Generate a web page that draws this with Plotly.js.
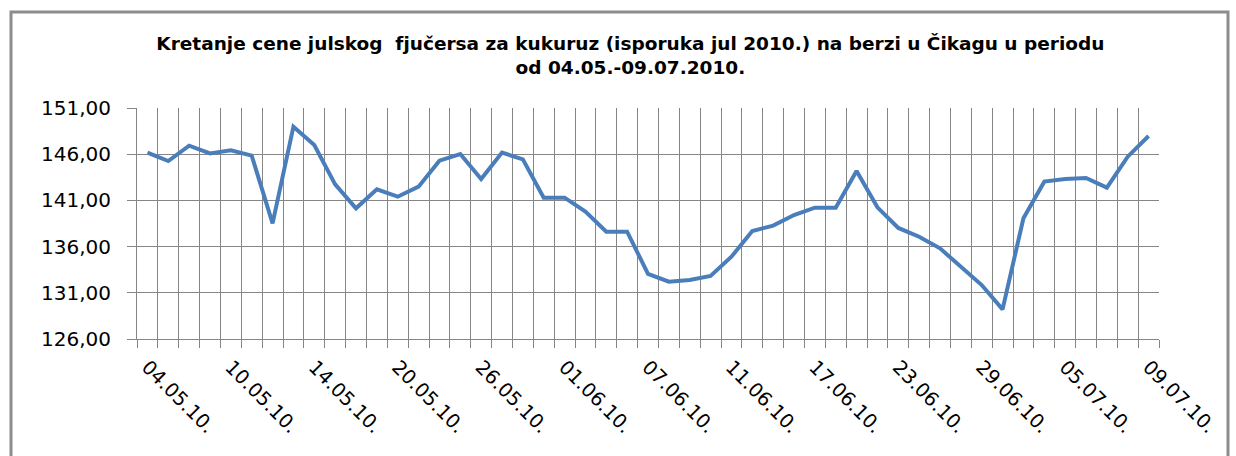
<!DOCTYPE html>
<html>
<head>
<meta charset="utf-8">
<script src="https://cdn.plot.ly/plotly-3.0.1.min.js"></script>
<style>
html,body{margin:0;padding:0;background:#fff;}
#chart{width:1236px;height:456px;}
</style>
</head>
<body>
<div id="chart"></div>
<script>
const dates = [
  "04.05.10.","05.05.10.","06.05.10.","07.05.10.","10.05.10.","11.05.10.","12.05.10.","13.05.10.","14.05.10.",
  "17.05.10.","18.05.10.","19.05.10.","20.05.10.","21.05.10.","24.05.10.","25.05.10.","26.05.10.","27.05.10.",
  "28.05.10.","31.05.10.","01.06.10.","02.06.10.","03.06.10.","04.06.10.","07.06.10.","08.06.10.","09.06.10.",
  "10.06.10.","11.06.10.","14.06.10.","15.06.10.","16.06.10.","17.06.10.","18.06.10.","21.06.10.","22.06.10.",
  "23.06.10.","24.06.10.","25.06.10.","28.06.10.","29.06.10.","30.06.10.","01.07.10.","02.07.10.","05.07.10.",
  "06.07.10.","07.07.10.","08.07.10.","09.07.10."
];
const prices = [
  146.17,145.26,146.92,146.09,146.42,145.84,138.52,148.98,147.00,
  142.74,140.14,142.20,141.40,142.49,145.30,146.02,143.32,146.17,
  145.44,141.30,141.30,139.78,137.62,137.62,133.05,132.20,132.38,
  132.82,134.91,137.69,138.27,139.42,140.21,140.21,144.18,140.25,
  138.02,137.07,135.81,133.83,131.84,129.21,139.06,143.03,143.32,
  143.42,142.38,145.73,147.97
];
const labelDates = ["04.05.10.","10.05.10.","14.05.10.","20.05.10.","26.05.10.","01.06.10.","07.06.10.",
  "11.06.10.","17.06.10.","23.06.10.","29.06.10.","05.07.10.","09.07.10."];
const titleText = "Kretanje cene julskog  fjučersa za kukuruz (isporuka jul 2010.) na berzi u Čikagu u periodu<br>od 04.05.-09.07.2010.";

const tickText = dates.map(d => labelDates.includes(d) ? d : "");
const gridColor = "#868686";

const trace = {
  x: dates,
  y: prices,
  type: "scatter",
  mode: "lines",
  line: {color: "#4a7ebb", width: 4},
  hoverinfo: "x+y"
};

const L = 137, R = 77, T = 108, B = 117;
const pw = 1236 - L - R, ph = 456 - T - B;

const layout = {
  width: 1236, height: 456,
  margin: {l: L, r: R, t: T, b: B, pad: 0},
  paper_bgcolor: "#fff", plot_bgcolor: "#fff",
  separators: ",.",
  showlegend: false,
  font: {family: "DejaVu Sans", color: "#000"},
  title: {
    text: titleText,
    font: {family: "DejaVu Sans", size: 18.5, weight: "bold", color: "#000"},
    x: 0.51, xref: "container", xanchor: "center",
    y: 0.89, yref: "container", yanchor: "top"
  },
  xaxis: {
    type: "category",
    tickmode: "array",
    tickvals: dates,
    ticktext: tickText,
    tickson: "boundaries",
    tickangle: 45,
    ticks: "outside", ticklen: 8, tickcolor: gridColor, tickwidth: 1,
    showgrid: true, gridcolor: gridColor, gridwidth: 1,
    showline: true, linecolor: gridColor, linewidth: 1,
    zeroline: false,
    ticklabelstandoff: 8,
    tickfont: {family: "DejaVu Sans", size: 19.5, color: "#000"},
    range: [-0.5, dates.length - 0.5]
  },
  yaxis: {
    range: [126, 151],
    tick0: 126, dtick: 5,
    tickformat: ".2f",
    ticks: "outside", ticklen: 9, tickcolor: gridColor, tickwidth: 1,
    showgrid: true, gridcolor: gridColor, gridwidth: 1,
    showline: true, linecolor: gridColor, linewidth: 1,
    zeroline: false,
    ticklabelstandoff: 12,
    tickfont: {family: "DejaVu Sans", size: 20, color: "#000"}
  },
  shapes: [{
    type: "rect", xref: "paper", yref: "paper",
    x0: (11 - L) / pw, x1: (1228 - L) / pw,
    y0: -(470 - (456 - B)) / ph, y1: ((456 - B) - 12) / ph,
    line: {color: "#8c8c8c", width: 3}, fillcolor: "rgba(0,0,0,0)", layer: "below"
  }]
};

Plotly.newPlot("chart", [trace], layout, {displayModeBar: false, staticPlot: true});
</script>
</body>
</html>
